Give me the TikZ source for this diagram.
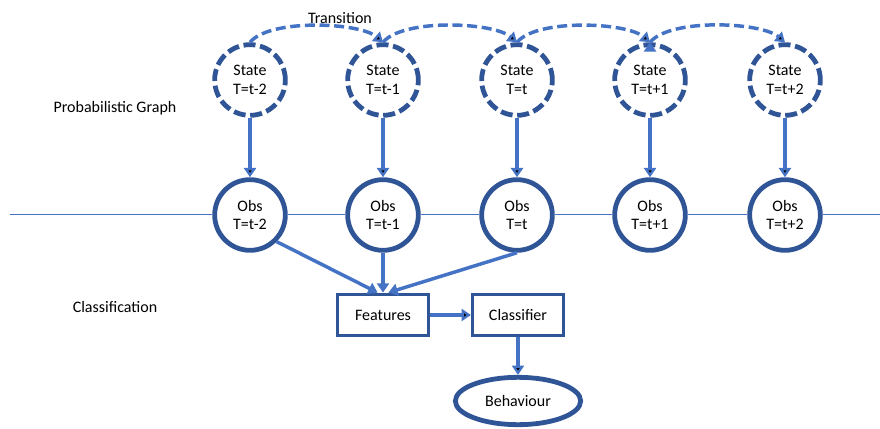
\documentclass[tikz,border=0pt]{standalone}
\usepackage{fontspec}
\setmainfont{Carlito}
\usetikzlibrary{arrows.meta,shapes.geometric}
\definecolor{darkblue}{HTML}{2F5597}
\definecolor{lightblue}{HTML}{4472C4}

\begin{document}
\begin{tikzpicture}[x=0.75pt,y=0.75pt,>={Triangle[length=7pt,width=9pt]},font=\fontsize{12}{14}\selectfont]
  \tikzset{obs/.style={circle,draw=darkblue,line width=3.6pt,fill=white,minimum size=53pt,inner sep=0pt,align=center},
           hidden/.style={obs,dash pattern=on 9pt off 3.5pt},
           box/.style={rectangle,draw=darkblue,line width=2.6pt,fill=white,minimum width=68pt,minimum height=31pt},
           link/.style={draw=lightblue,line width=2.6pt},
           hop/.style={out=50,in=140,looseness=0.6}}
  \useasboundingbox (0,0) rectangle (880,428);
  \coordinate (left)  at (10,213);
  \coordinate (right) at (880,213);
  % hidden states
  \node[hidden] (s1) at (250,348) {State\\T=t-2};
  \node[hidden] (s2) at (383,348) {State\\T=t-1};
  \node[hidden] (s3) at (517,348) {State\\T=t};
  \node[hidden] (s4) at (650,348) {State\\T=t+1};
  \node[hidden] (s5) at (785,348) {State\\T=t+2};
  % observations
  \node[obs] (o1) at (250,213) {Obs\\T=t-2};
  \node[obs] (o2) at (383,213) {Obs\\T=t-1};
  \node[obs] (o3) at (517,213) {Obs\\T=t};
  \node[obs] (o4) at (650,213) {Obs\\T=t+1};
  \node[obs] (o5) at (785,213) {Obs\\T=t+2};
  % classification
  \node[box] (feat)  at (383,113) {Features};
  \node[box] (class) at (518,113) {Classifier};
  \node[ellipse,draw=darkblue,line width=3.6pt,minimum width=94pt,minimum height=35.5pt] (beh) at (518,27) {Behaviour};
  % labels
  \node (trans) at (340,410) {Transition};
  \node (pg)    at (115,320) {Probabilistic Graph};
  \node (cl)    at (115,121) {Classification};

  \draw[lightblue,line width=0.75pt] (left) -- (o1) -- (o2) -- (o3) -- (o4) -- (o5) -- (right);
  \path[link,->,dash pattern=on 7.5pt off 3.5pt]
    (s1.north) edge[hop] (s2.north)
    (s2.north) edge[hop] (s3.north)
    (s3.north) edge[hop] (s4.north)
    (s4.north) edge[hop] (s5.north);
  \path[link,->]
    (s1) edge (o1)
    (s2) edge (o2)
    (s3) edge (o3)
    (s4) edge (o4)
    (s5) edge (o5)
    (feat) edge (class)
    (class) edge (beh);
  \draw[link,->] (o1.south east) -- ([xshift=-4pt]feat.north);
  \draw[link,->] (o2) -- (feat);
  \draw[link,->] (o3.south) -- ([xshift=4pt]feat.north);
\end{tikzpicture}
\end{document}
